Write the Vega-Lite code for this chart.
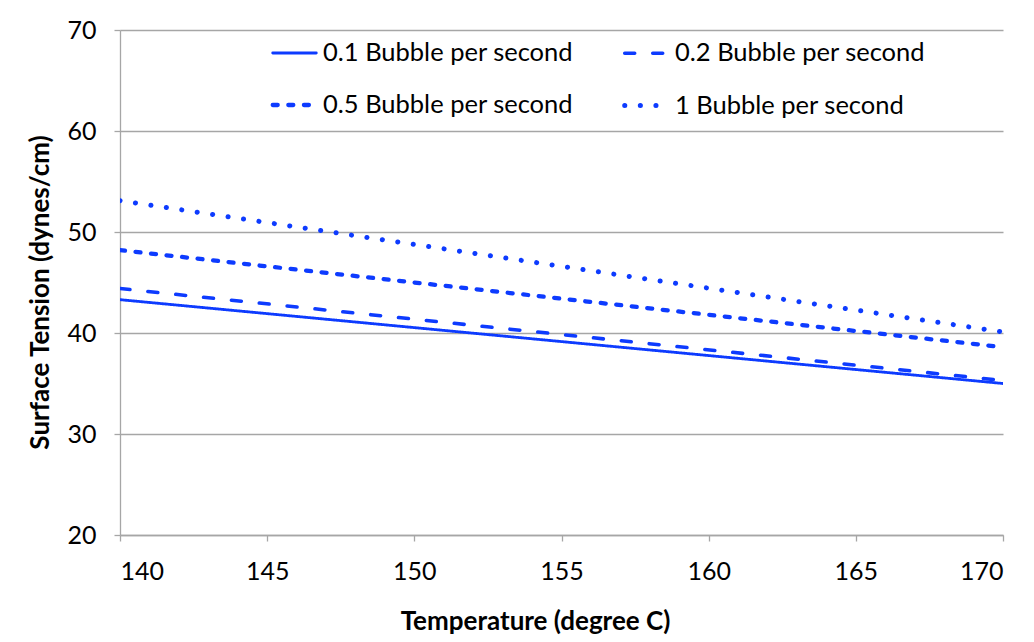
{
  "$schema": "https://vega.github.io/schema/vega-lite/v6.json",
  "width": 883,
  "height": 505,
  "autosize": "none",
  "padding": {"left": 120, "top": 30, "right": 31, "bottom": 107},
  "background": "white",
  "config": {
    "font": "Lato",
    "view": {"stroke": null},
    "axis": {"labelFont": "Lato", "titleFont": "Lato", "labelColor": "#000", "titleColor": "#000"}
  },
  "data": {
    "values": [
      {"series": "0.1 Bubble per second", "T": 140, "st": 43.3},
      {"series": "0.1 Bubble per second", "T": 170, "st": 35.0},
      {"series": "0.2 Bubble per second", "T": 140, "st": 44.4},
      {"series": "0.2 Bubble per second", "T": 170, "st": 35.3},
      {"series": "0.5 Bubble per second", "T": 140, "st": 48.2},
      {"series": "0.5 Bubble per second", "T": 170, "st": 38.6},
      {"series": "1 Bubble per second", "T": 140, "st": 53.1},
      {"series": "1 Bubble per second", "T": 170, "st": 40.1}
    ]
  },
  "mark": {"type": "line", "color": "#0D3BFF", "strokeCap": "round", "clip": true},
  "encoding": {
    "x": {
      "field": "T", "type": "quantitative",
      "scale": {"domain": [140, 170], "nice": false, "zero": false},
      "axis": {
        "values": [140, 145, 150, 155, 160, 165, 170],
        "grid": false, "domainColor": "#A6A6A6", "domainWidth": 1.3,
        "tickColor": "#A6A6A6", "tickSize": 6, "tickWidth": 1.3,
        "labelFontSize": 25, "labelPadding": 18,
        "title": "Temperature (degree C)", "titleFontSize": 26, "titleFontWeight": "bold",
        "titlePadding": 24, "titleX": 415
      }
    },
    "y": {
      "field": "st", "type": "quantitative",
      "scale": {"domain": [20, 70], "nice": false, "zero": false},
      "axis": {
        "values": [20, 30, 40, 50, 60, 70],
        "grid": true, "gridColor": "#A6A6A6", "gridWidth": 1.3,
        "domainColor": "#A6A6A6", "domainWidth": 1.3,
        "tickColor": "#A6A6A6", "tickSize": 6, "tickWidth": 1.3,
        "labelFontSize": 25, "labelPadding": 18,
        "title": "Surface Tension (dynes/cm)", "titleFontSize": 26, "titleFontWeight": "bold",
        "titlePadding": 13, "titleY": 262
      }
    },
    "strokeDash": {
      "field": "series", "type": "nominal",
      "scale": {
        "domain": ["0.1 Bubble per second", "0.2 Bubble per second", "0.5 Bubble per second", "1 Bubble per second"],
        "range": [[1, 0], [10, 18], [5, 10.6], [0.1, 15.5]]
      },
      "legend": {
        "title": null, "orient": "none", "legendX": 150, "legendY": -1,
        "direction": "horizontal", "columns": 2, "columnPadding": 40, "rowPadding": 14,
        "symbolType": "stroke", "symbolSize": 1900, "symbolStrokeColor": "#0D3BFF",
        "symbolOffset": 0,
        "labelFontSize": 25.5, "labelFont": "Lato", "labelColor": "#000", "labelOffset": 4, "labelLimit": 400,
        "encode": {"symbols": {"update": {"strokeCap": {"value": "round"}}}}
      }
    },
    "strokeWidth": {
      "field": "series", "type": "nominal",
      "scale": {
        "domain": ["0.1 Bubble per second", "0.2 Bubble per second", "0.5 Bubble per second", "1 Bubble per second"],
        "range": [2.8, 5, 5, 4.2]
      },
      "legend": {
        "title": null, "orient": "none", "legendX": 150, "legendY": -1,
        "direction": "horizontal", "columns": 2, "columnPadding": 40, "rowPadding": 14,
        "symbolType": "stroke", "symbolSize": 1900, "symbolStrokeColor": "#0D3BFF",
        "symbolOffset": 0,
        "labelFontSize": 25.5, "labelFont": "Lato", "labelColor": "#000", "labelOffset": 4, "labelLimit": 400,
        "encode": {"symbols": {"update": {"strokeCap": {"value": "round"}}}}
      }
    }
  }
}
